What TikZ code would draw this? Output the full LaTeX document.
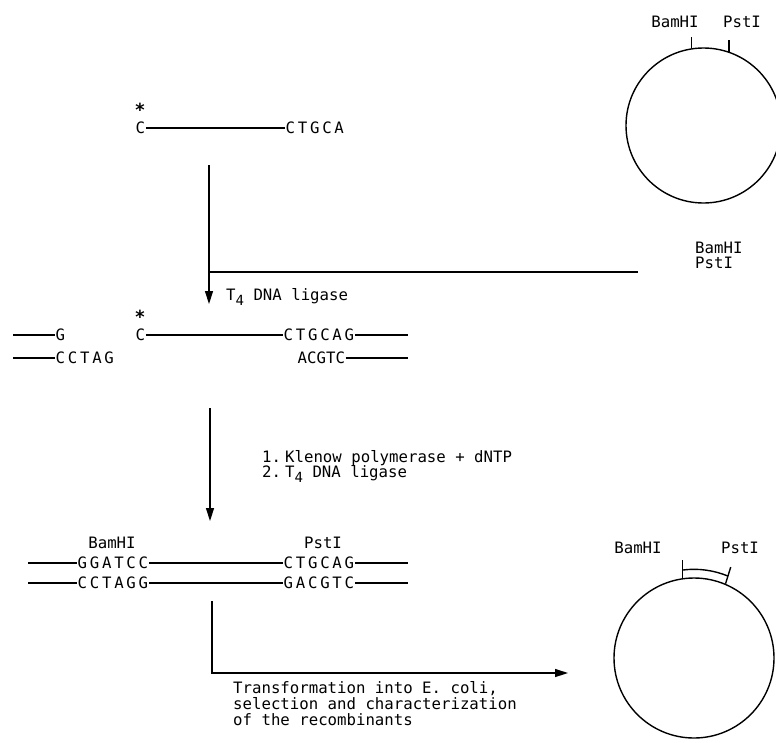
\documentclass[tikz,border=0pt]{standalone}
\usepackage{fontspec}
\setmainfont{DejaVu Sans Mono}
\newfontfamily\dnafont[LetterSpace=17.5]{DejaVu Sans Mono}
\usetikzlibrary{arrows.meta,calc}
\newcommand\subfour{\raisebox{-5pt}{\fontsize{14}{14}\selectfont 4}}
\tikzset{
  lbl/.style={inner sep=0pt, font=\fontsize{15.7}{16}\selectfont},
  dna/.style={inner sep=0.5pt, anchor=west, font=\dnafont\fontsize{15.7}{16}\selectfont},
  star/.style={inner sep=0pt, anchor=base, font=\bfseries\fontsize{18}{18}\selectfont},
  ln/.style={line width=1.4pt},
  arr/.style={line width=1.4pt, -{Triangle[length=13pt,width=8pt]}},
  plas/.style={circle, draw, line width=1.4pt, inner sep=0pt},
}
\begin{document}
\begin{tikzpicture}[x=1pt,y=-1pt]
\useasboundingbox (0,0) rectangle (776,742);

% top plasmid
\node[plas, minimum size=155pt] (p1) at (703.5,125.5) {};
\draw[ln] (p1.99) -- ++(0,-11);
\draw[ln] (p1.71) -- ++(0,-12);
\node[lbl] (bam1) at (675,22) {BamHI};
\node[lbl] (pst1) at (742,22) {PstI};

% insert fragment
\node[star] (s1) at (140,116.5) {*};
\node[dna] (c1) at (135,128) {C};
\node[dna] (f1) at (285,128) {CTGCA};
\draw[ln] (c1) -- (f1);

% arrow 1 and vector line
\coordinate (a1s) at (209,165);
\coordinate (a1j) at (209,272);
\coordinate (a1e) at (209,304);
\coordinate (v1) at (638,272);
\draw[arr] (a1s) -- (a1e);
\draw[ln] (a1j) -- (v1);
\node[lbl, anchor=west] (bam2) at (695,248) {BamHI};
\node[lbl, anchor=west] (pst2) at (695,263) {PstI};
\node[lbl, anchor=base west] (lig1) at (226,300) {T\subfour{} DNA ligase};

% ligation product
\coordinate (gL) at (13,335);
\node[dna] (g) at (55,335) {G};
\coordinate (cctagL) at (13,358);
\node[dna] (cctag) at (55,358) {CCTAG};
\draw[ln] (gL) -- (g);
\draw[ln] (cctagL) -- (cctag);
\node[star] (s2) at (140,323.5) {*};
\node[dna] (c2) at (135,335) {C};
\node[dna] (ctgcag1) at (283,335) {CTGCAG};
\coordinate (r1) at (408,335);
\node[dna, font=\fontsize{15.7}{16}\selectfont] (acgtc) at (297,358) {ACGTC};
\coordinate (r2) at (408,358);
\draw[ln] (c2) -- (ctgcag1) -- (r1);
\draw[ln] (acgtc) -- (r2);

% arrow 2
\coordinate (a2s) at (210,408);
\coordinate (a2e) at (210,521);
\draw[arr] (a2s) -- (a2e);
\node[lbl, anchor=base west] (k1) at (262,462) {\makebox[23pt][l]{1.}Klenow polymerase + dNTP};
\node[lbl, anchor=base west] (k2) at (262,477) {\makebox[23pt][l]{2.}T\subfour{} DNA ligase};

% final construct
\node[lbl] (bam3) at (112,543) {BamHI};
\node[lbl] (pst3) at (323,543) {PstI};
\coordinate (u3L) at (28,563);
\node[dna] (ggatcc) at (77,563) {GGATCC};
\node[dna] (ctgcag2) at (283,563) {CTGCAG};
\coordinate (u3R) at (408,563);
\coordinate (l3L) at (28,583);
\node[dna] (cctagg) at (77,583) {CCTAGG};
\node[dna] (gacgtc) at (283,583) {GACGTC};
\coordinate (l3R) at (408,583);
\draw[ln] (u3L) -- (ggatcc) -- (ctgcag2) -- (u3R);
\draw[ln] (l3L) -- (cctagg) -- (gacgtc) -- (l3R);

% arrow 3
\coordinate (a3s) at (212,601);
\coordinate (a3c) at (212,673);
\coordinate (a3e) at (568,673);
\draw[arr] (a3s) -- (a3c) -- (a3e);
\node[lbl, anchor=base west] (t1) at (233,693.5) {Transformation into E. coli,};
\node[lbl, anchor=base west] (t2) at (233,709.5) {selection and characterization};
\node[lbl, anchor=base west] (t3) at (233,725.5) {of the recombinants};

% recombinant plasmid
\node[plas, minimum size=160pt] (p2) at (694,658) {};
\draw[ln] (p2.98) -- ++(0,-18);
\draw[ln] (p2.67) -- ($(p2.center)+(-68:98)$);
\draw[ln] ([shift={(-97.2:88.7)}]p2.center) arc[start angle=-97.2, end angle=-67.5, radius=88.7];
\node[lbl] (bam4) at (638,548) {BamHI};
\node[lbl] (pst4) at (740,548) {PstI};
\end{tikzpicture}
\end{document}
